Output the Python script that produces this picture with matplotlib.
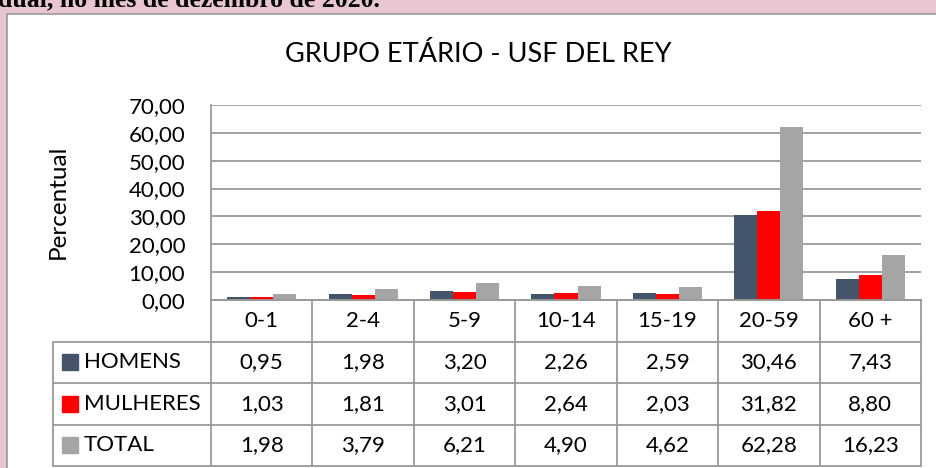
import matplotlib
matplotlib.use("Agg")
import matplotlib.pyplot as plt
from matplotlib.patches import Rectangle
from matplotlib.ticker import FuncFormatter

categories = ["0-1", "2-4", "5-9", "10-14", "15-19", "20-59", "60 +"]
series_names = ["HOMENS", "MULHERES", "TOTAL"]
homens = [0.95, 1.98, 3.20, 2.26, 2.59, 30.46, 7.43]
mulheres = [1.03, 1.81, 3.01, 2.64, 2.03, 31.82, 8.80]
total = [1.98, 3.79, 6.21, 4.90, 4.62, 62.28, 16.23]
yticks = [0, 10, 20, 30, 40, 50, 60, 70]
title = "GRUPO ETÁRIO - USF DEL REY"
ylabel = "Percentual"
top_text = "dual, no mês de dezembro de 2020."

colors = ["#44546a", "#ff0000", "#a5a5a5"]
series = [homens, mulheres, total]

W, H = 937, 468
plt.rcParams["font.family"] = ["Lato", "DejaVu Sans"]
fig = plt.figure(figsize=(W / 100, H / 100), dpi=100)
fig.patch.set_facecolor("#e8c6d1")

def fx(px):
    return px / W

def fy(py):
    return (H - py) / H

# white chart box
box = Rectangle((fx(7.5), -0.01), 1 - fx(7.5) + 0.01, fy(13.5) + 0.01, transform=fig.transFigure,
                facecolor="white", edgecolor="#9a9a9a", linewidth=1.2, zorder=-5)
fig.add_artist(box)

# cropped top text
fig.text(fx(-2), fy(6.5), top_text, family=["Liberation Serif", "DejaVu Serif"], fontweight="bold",
         fontsize=18.5, ha="left", va="baseline", color="black", zorder=-4)

# main axes
ax = fig.add_axes([fx(211), fy(300), fx(921) - fx(211), fy(105) - fy(300)])
n = len(categories)
bw = 0.227
for k, (vals, c) in enumerate(zip(series, colors)):
    ax.bar([i + (k - 1) * bw for i in range(n)], vals, width=bw, color=c, zorder=3)
ax.set_xlim(-0.5, n - 0.5)
ax.set_ylim(0, 70)
ax.set_yticks(yticks)
ax.yaxis.set_major_formatter(FuncFormatter(lambda v, p: f"{v:.2f}".replace(".", ",")))
ax.set_xticks([])
ax.tick_params(axis="y", length=0, pad=18.5, labelsize=16)
ax.grid(axis="y", color="#9a9a9a", linewidth=1.3, zorder=0)
for s in ["top", "right"]:
    ax.spines[s].set_visible(False)
for s in ["left", "bottom"]:
    ax.spines[s].set_color("#9a9a9a")
    ax.spines[s].set_linewidth(1.3)
ax.set_facecolor("none")

fig.text(fx(58), fy(202), ylabel, fontsize=17.5, rotation=90, ha="center", va="center")
fig.text(fx(478), fy(55), title, fontsize=19.5, ha="center", va="center")

# table axes
lab_w = (211 - 53) / ((921 - 211) / n)
tax = fig.add_axes([fx(53), fy(466), fx(921) - fx(53), fy(300) - fy(466)])
tax.set_xlim(-0.5 - lab_w, n - 0.5)
tax.set_ylim(4, 0)
tax.axis("off")
lc = "#9a9a9a"
lw = 1.3
for r in range(1, 5):
    tax.plot([-0.5 - lab_w, n - 0.5], [r, r], color=lc, lw=lw, solid_capstyle="butt", clip_on=False)
tax.plot([-0.5, n - 0.5], [0, 0], color=lc, lw=lw, clip_on=False)
tax.plot([-0.5 - lab_w, -0.5 - lab_w], [1, 4], color=lc, lw=lw, clip_on=False)
for i in range(n + 1):
    tax.plot([i - 0.5, i - 0.5], [0, 4], color=lc, lw=lw, clip_on=False)

for i, cat in enumerate(categories):
    tax.text(i, 0.5, cat, ha="center", va="center", fontsize=16)
px_unit = (921 - 211) / n
for r, (name, vals, c) in enumerate(zip(series_names, series, colors)):
    y = r + 1.5
    tax.plot([-0.5 - lab_w + (70 - 53) / px_unit], [y], marker="s", markersize=11.5,
             color=c, linestyle="none", clip_on=False)
    tax.text(-0.5 - lab_w + (84 - 53) / px_unit, y, name, ha="left", va="center", fontsize=16)
    for i, v in enumerate(vals):
        tax.text(i, y, f"{v:.2f}".replace(".", ","), ha="center", va="center", fontsize=16)

fig.savefig("out.png", dpi=100, facecolor=fig.get_facecolor())
